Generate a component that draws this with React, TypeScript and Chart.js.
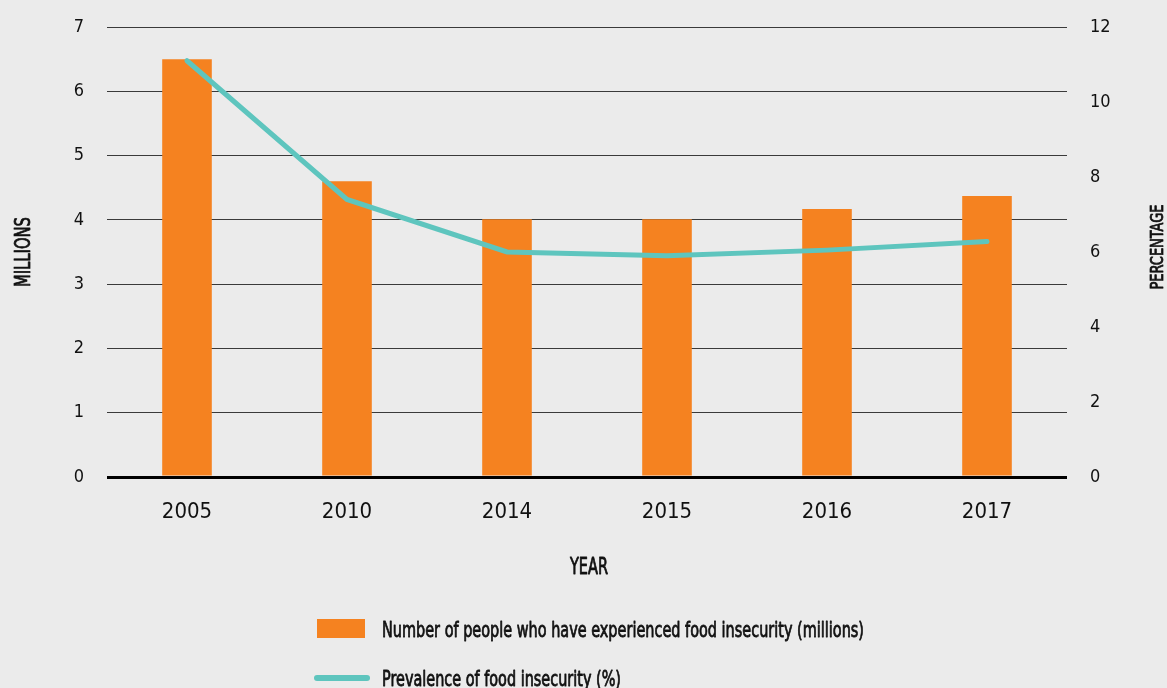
import React, { useEffect, useRef } from "react";
import { Chart, registerables } from "chart.js";

Chart.register(...registerables);

const years = ["2005", "2010", "2014", "2015", "2016", "2017"];
const peopleMillions = [6.5, 4.6, 4.01, 4.01, 4.17, 4.37];
const prevalencePct = [11.1, 7.4, 6.0, 5.9, 6.05, 6.28];
const leftTicks = [0, 1, 2, 3, 4, 5, 6, 7];
const rightTicks = [0, 2, 4, 6, 8, 10, 12];

const barLabel = "Number of people who have experienced food insecurity (millions)";
const lineLabel = "Prevalence of food insecurity (%)";
const xTitle = "YEAR";
const leftTitle = "MILLIONS";
const rightTitle = "PERCENTAGE";

const FONT = "'DejaVu Sans', sans-serif";
const STRETCH = "condensed";
const ORANGE = "#f58220";
const TEAL = "#5ec5be";
const BG = "#ebebeb";
const INK = "#111";

// draw text whose cap-height is centred on cy, squeezed horizontally to a target width
function fitText(
  ctx: CanvasRenderingContext2D,
  text: string,
  x: number,
  cy: number,
  size: number,
  width: number,
  align: "left" | "center",
  rotate = false
) {
  ctx.save();
  ctx.font = `${STRETCH} ${size}px ${FONT}`;
  ctx.textBaseline = "alphabetic";
  ctx.textAlign = "left";
  const w = ctx.measureText(text).width;
  const k = width / w;
  ctx.translate(x, cy);
  if (rotate) ctx.rotate(-Math.PI / 2);
  ctx.scale(k, 1);
  const startX = align === "center" ? -w / 2 : 0;
  const by = (size * 0.729) / 2;
  ctx.fillText(text, startX, by);
  ctx.strokeStyle = INK;
  ctx.lineWidth = 0.8;
  ctx.lineJoin = "round";
  ctx.strokeText(text, startX, by);
  ctx.restore();
}

const extrasPlugin = {
  id: "extras",
  afterDraw(chart: any) {
    const ctx = chart.ctx as CanvasRenderingContext2D;
    const a = chart.chartArea;
    ctx.save();
    ctx.fillStyle = INK;
    fitText(ctx, xTitle, (a.left + a.right) / 2 + 2, a.bottom + 89, 23, 38, "center");
    fitText(ctx, leftTitle, 22.5, 252, 21, 70, "center", true);
    fitText(ctx, rightTitle, 1156.5, 247, 18, 85, "center", true);
    // legend
    const lx = 317;
    ctx.fillStyle = ORANGE;
    ctx.fillRect(lx, a.bottom + 142, 48, 19);
    ctx.strokeStyle = TEAL;
    ctx.lineWidth = 6;
    ctx.lineCap = "round";
    ctx.beginPath();
    ctx.moveTo(lx, a.bottom + 201);
    ctx.lineTo(lx + 50, a.bottom + 201);
    ctx.stroke();
    ctx.fillStyle = INK;
    fitText(ctx, barLabel, 382, a.bottom + 152, 22, 482, "left");
    fitText(ctx, lineLabel, 382, a.bottom + 201, 22, 239, "left");
    ctx.restore();
  },
};

export default function App() {
  const ref = useRef<HTMLCanvasElement | null>(null);

  useEffect(() => {
    document.body.style.margin = "0";
    document.body.style.background = BG;
    const canvas = ref.current;
    if (!canvas) return;
    const tickFont = (size: number) => ({ family: FONT, size, weight: STRETCH as any });
    const chart = new Chart(canvas, {
      type: "bar",
      data: {
        labels: years,
        datasets: [
          {
            type: "line",
            label: lineLabel,
            data: prevalencePct,
            yAxisID: "y1",
            borderColor: TEAL,
            backgroundColor: TEAL,
            borderWidth: 5,
            pointRadius: 0,
            tension: 0,
            borderCapStyle: "round",
            order: 1,
          } as any,
          {
            type: "bar",
            label: barLabel,
            data: peopleMillions,
            yAxisID: "y",
            backgroundColor: ORANGE,
            barPercentage: 0.62,
            categoryPercentage: 0.5,
            order: 2,
          } as any,
        ],
      },
      options: {
        responsive: false,
        animation: false,
        maintainAspectRatio: false,
        layout: { padding: { top: 27, left: 0, right: 0, bottom: 0 } },
        plugins: {
          legend: { display: false },
          tooltip: { enabled: false },
        },
        scales: {
          x: {
            grid: { display: false, drawTicks: false },
            border: { display: false },
            ticks: {
              color: INK,
              font: tickFont(22),
              padding: 22,
            },
            afterFit(scale: any) {
              scale.height = 211;
            },
          },
          y: {
            position: "left",
            min: 0,
            max: 7,
            afterBuildTicks(scale: any) {
              scale.ticks = leftTicks.map((v) => ({ value: v }));
            },
            grid: {
              drawTicks: true,
              tickLength: 23,
              tickColor: "rgba(0,0,0,0)",
              color: (c: any) => (c.tick && c.tick.value === 0 ? "#000" : "#3a3a3a"),
              lineWidth: (c: any) => (c.tick && c.tick.value === 0 ? 3 : 1),
            },
            border: { display: false },
            ticks: {
              color: INK,
              font: tickFont(18),
              padding: 0,
            },
            afterFit(scale: any) {
              scale.width = 107;
            },
          },
          y1: {
            position: "right",
            min: 0,
            max: 12,
            afterBuildTicks(scale: any) {
              scale.ticks = rightTicks.map((v) => ({ value: v }));
            },
            grid: {
              display: true,
              drawOnChartArea: false,
              drawTicks: true,
              tickLength: 23,
              tickColor: "rgba(0,0,0,0)",
              color: "rgba(0,0,0,0)",
            },
            border: { display: false },
            ticks: {
              color: INK,
              font: tickFont(18),
              padding: 0,
            },
            afterFit(scale: any) {
              scale.width = 100;
            },
          },
        },
      },
      plugins: [extrasPlugin],
    });
    return () => chart.destroy();
  }, []);

  return (
    <div style={{ width: 1167, height: 688, background: BG }}>
      <canvas ref={ref} width={1167} height={688} />
    </div>
  );
}
